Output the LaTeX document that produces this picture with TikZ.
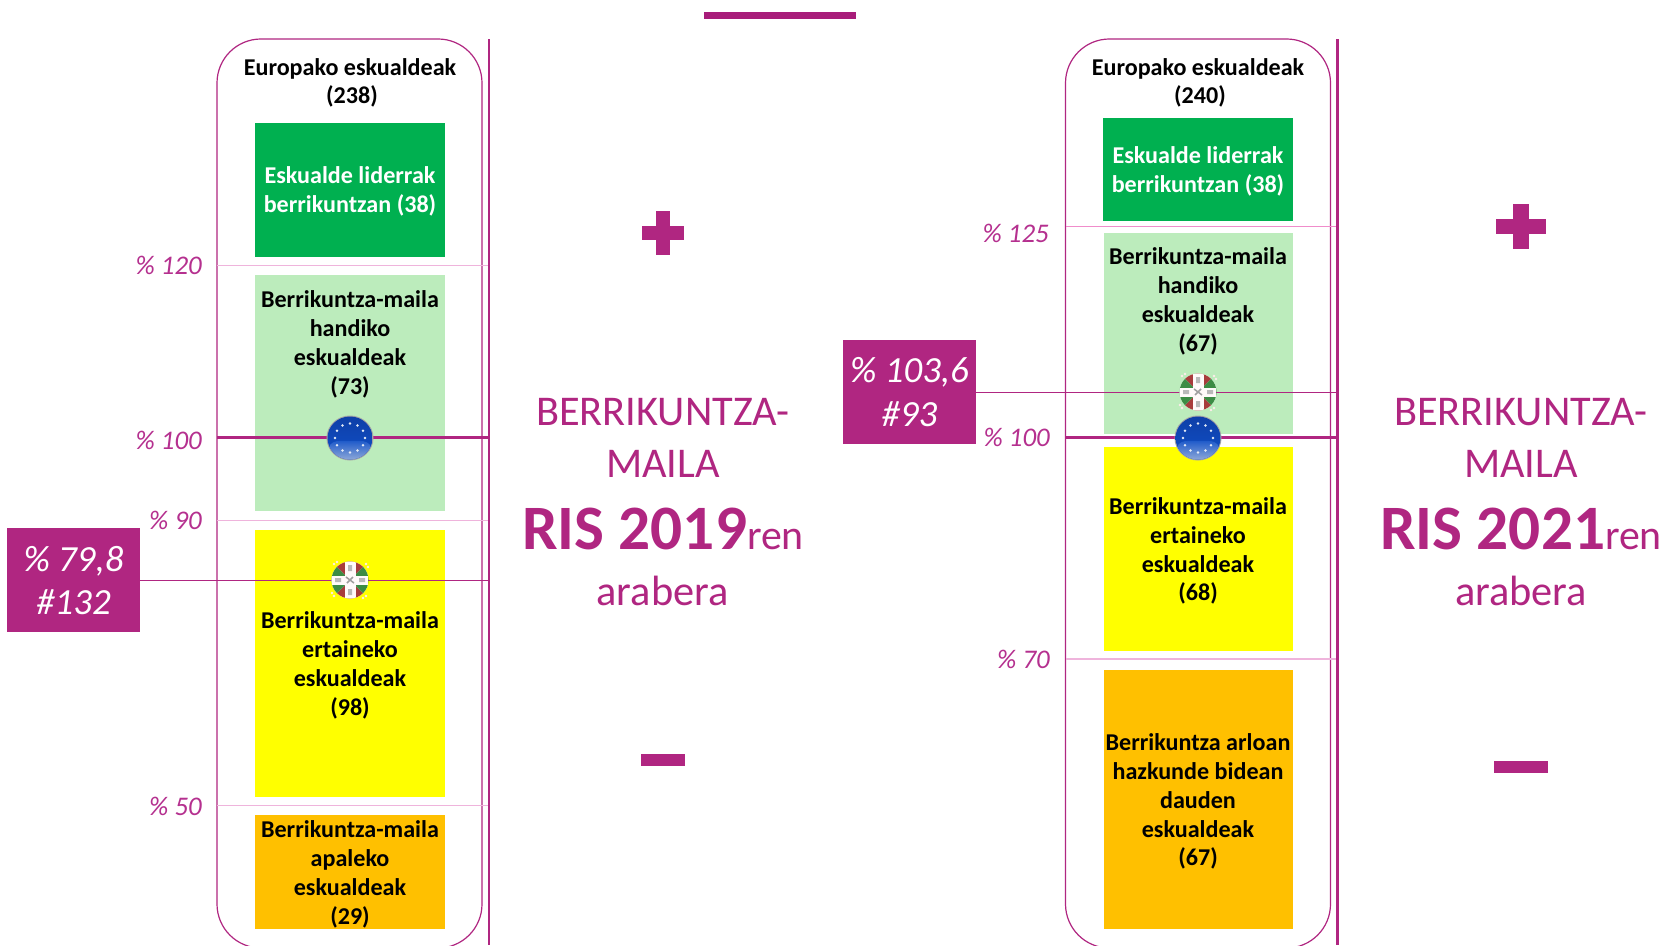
\documentclass[tikz,border=0pt]{standalone}
\usepackage{fontspec}
\setmainfont{Carlito}
\usetikzlibrary{shadings}
\definecolor{mag}{HTML}{B02681}
\definecolor{topbar}{HTML}{A81C7A}
\definecolor{pinka}{HTML}{EFB4DC}
\definecolor{pinkb}{HTML}{F08CCB}
\definecolor{lab}{HTML}{B5308F}
\definecolor{cgreen}{HTML}{00B050}
\definecolor{clight}{HTML}{BCECBC}
\definecolor{cyellow}{HTML}{FFFF00}
\definecolor{corange}{HTML}{FFC000}
\definecolor{eutop}{HTML}{0E3FA8}
\definecolor{eumid}{HTML}{1050C8}
\definecolor{eulow}{HTML}{8FA9D8}
\definecolor{ikred}{HTML}{A83C3C}
\definecolor{ikgreen}{HTML}{3C8C44}
\tikzset{
  x=1bp,y=-1bp,
  regbox/.style={inner sep=0pt,outer sep=0pt},
  capsule/.style={draw=mag,line width=1.2bp,rounded corners=44bp,minimum width=265bp,minimum height=909bp,inner sep=0pt,outer sep=0pt},
  blacktxt/.style={font=\fontsize{24.2}{29}\selectfont\bfseries,align=center,text=black,inner sep=0pt},
  whitetxt/.style={font=\fontsize{24.2}{29}\selectfont\bfseries,align=center,text=white,inner sep=0pt},
  headtxt/.style={font=\fontsize{24.2}{28}\selectfont\bfseries,align=center,text=black,inner sep=0pt},
  pct/.style={font=\fontsize{27}{30}\selectfont\itshape,text=lab,anchor=east,inner sep=0pt},
  valtxt/.style={font=\fontsize{37}{44}\selectfont\itshape,text=white,align=center,inner sep=0pt},
  ristxt/.style={text=mag,inner sep=0pt},
  bigtxt/.style={text=mag,inner sep=0pt,font=\fontsize{42.5}{42.5}\selectfont},
  thin pink/.style={draw=pinka,line width=1.5bp},
  bright pink/.style={draw=pinkb,line width=1.2bp},
  markline/.style={draw=mag,line width=1bp},
  hundred/.style={draw=mag,line width=2.6bp},
  axisline/.style={draw=mag,line width=2.6bp},
}
\newcommand{\regbox}[6]{%
  \pgfmathsetmacro{\rbw}{#4-#2}\pgfmathsetmacro{\rbh}{#5-#3}%
  \pgfmathsetmacro{\rbx}{(#2+#4)/2}\pgfmathsetmacro{\rby}{(#3+#5)/2}%
  \node[regbox,fill=#6,minimum width=\rbw bp,minimum height=\rbh bp] (#1) at (\rbx,\rby) {};}
\newcommand{\eubal}[3]{%
  \begin{scope}[shift={(#2,#3)}]
    \node[regbox,minimum width=46bp,minimum height=44bp] (#1) at (0,0) {};
    \fill[color=black!35!white] (0,0) ellipse [x radius=23.5,y radius=22.5];
    \shade[top color=eutop,bottom color=eumid] (0,0) ellipse [x radius=22.5,y radius=21.5];
    \begin{scope}
      \clip (0,0) ellipse [x radius=22.5,y radius=21.5];
      \shade[top color=eumid,bottom color=eulow] (-23,22) .. controls (-23,0) and (-14,3) .. (0,3) .. controls (14,3) and (23,0) .. (23,22) -- cycle;
    \end{scope}
    \foreach \a in {0,30,...,330}{\fill[white!75!eulow] ({15*cos(\a)},{14.5*sin(\a)}) circle [radius=1.4];}
  \end{scope}}
\newcommand{\ikur}[3]{%
  \begin{scope}[shift={(#2,#3)}]
    \node[regbox,minimum width=38bp,minimum height=37bp] (#1) at (0,0) {};
    \begin{scope}
      \clip (0,0) ellipse [x radius=18.5,y radius=18.5];
      \fill[white] (-19,-19) rectangle (19,19);
      \fill[ikred] (-19,-19) -- (0,0) -- (19,-19) -- cycle;
      \fill[ikred] (-19,19) -- (0,0) -- (19,19) -- cycle;
      \fill[ikgreen] (-19,-19) -- (0,0) -- (-19,19) -- cycle;
      \fill[ikgreen] (19,-19) -- (0,0) -- (19,19) -- cycle;
      \fill[white!92!pink] (-5.5,-19) rectangle (5.5,19);
      \fill[white!92!pink] (-19,-4.5) rectangle (19,4.5);
      \fill[gray!55] (-2,-15) rectangle (2,-9) (-2,9) rectangle (2,15) (-15,-2) rectangle (-9,2) (9,-2) rectangle (15,2);
      \draw[gray!75,line width=1.5bp] (-4,-3) -- (4,3) (-3,3) -- (3,-3);
    \end{scope}
    \foreach \p/\q in {-16/-16,16/-16,-16/16,16/16,-13/-18,13/18,-18/13,18/-13}{\fill[white!70!pink] (\p,\q) circle [radius=1.4];}
  \end{scope}}
\begin{document}
\begin{tikzpicture}
\useasboundingbox (0,0) rectangle (1670,945);
\fill[white] (0,0) rectangle (1670,945);
% top bar
\regbox{topb}{704}{12}{856}{19}{topbar}
% LEFT PANEL
\node[capsule] (capA) at (349.5,493.5) {};
\regbox{a1}{254.5}{123}{445}{257}{cgreen}
\regbox{a2}{255}{275}{445}{511}{clight}
\regbox{a3}{255}{530}{445}{797}{cyellow}
\regbox{a4}{255}{815}{445}{929}{corange}
\node[headtxt] (ah) at (350,83) {Europako eskualdeak\\\hspace*{4bp}(238)};
\node[whitetxt] (a1t) at (350,191.5) {Eskualde liderrak\\berrikuntzan (38)};
\node[blacktxt] (a2t) at (350,344.5) {Berrikuntza-maila\\handiko\\eskualdeak\\(73)};
\node[blacktxt] (a3t) at (350,665.5) {Berrikuntza-maila\\ertaineko\\eskualdeak\\(98)};
\node[blacktxt] (a4t) at (350,874.5) {Berrikuntza-maila\\apaleko\\eskualdeak\\(29)};
\coordinate (at) at (489,39); \coordinate (ab) at (489,945);
\foreach \n/\y in {120/265.7,90/520.7,50/805.5}{
  \coordinate (al\n) at (217,\y); \coordinate (ar\n) at (489,\y);
  \draw[thin pink] (al\n) -- (ar\n);}
\coordinate (al100) at (217,437.5); \coordinate (ar100) at (489,437.5);
\draw[hundred] (al100) -- (ar100);
\draw[axisline] (at) -- (ab);
\node[pct] (ap120) at (202,265.5) {\% 120};
\node[pct] (ap100) at (202,440.5) {\% 100};
\node[pct] (ap90) at (202,520.5) {\% 90};
\node[pct] (ap50) at (202,806.5) {\% 50};
\regbox{av}{7}{528}{140}{632}{mag}
\node[valtxt] (avt) at (73.5,580.5) {\% 79,8\\\#132};
\coordinate (avr) at (489,580);
\draw[markline] (av) -- (avr);
\eubal{aeu}{350}{438}
\ikur{aik}{350}{580}
\node[bigtxt] (at1) at (663,412) {BERRIKUNTZA-};
\node[bigtxt] (at2) at (663,464) {MAILA};
\node[ristxt] (at3) at (663,529) {\fontsize{63.5}{63.5}\selectfont\bfseries RIS 2019\fontsize{42}{42}\selectfont\mdseries ren};
\node[bigtxt] (at4) at (662.5,591) {arabera};
\regbox{apv}{656}{211}{670}{255}{mag}
\regbox{aph}{642}{226}{684}{240}{mag}
\regbox{am}{640.5}{754}{685}{766}{mag}
% RIGHT PANEL
\node[capsule] (capB) at (1198,493.5) {};
\regbox{b1}{1103}{118}{1293}{221}{cgreen}
\regbox{b2}{1104}{233}{1293}{434}{clight}
\regbox{b3}{1104}{447}{1293}{651}{cyellow}
\regbox{b4}{1104}{670}{1293}{929}{corange}
\node[headtxt] (bh) at (1198,83) {Europako eskualdeak\\\hspace*{4bp}(240)};
\node[whitetxt] (b1t) at (1198,171.5) {Eskualde liderrak\\berrikuntzan (38)};
\node[blacktxt] (b2t) at (1198,301.5) {Berrikuntza-maila\\handiko\\eskualdeak\\(67)};
\node[blacktxt] (b3t) at (1198,551) {Berrikuntza-maila\\ertaineko\\eskualdeak\\(68)};
\node[blacktxt] (b4t) at (1198,801.5) {Berrikuntza arloan\\hazkunde bidean\\dauden\\eskualdeak\\(67)};
\coordinate (bt) at (1337.7,39); \coordinate (bb) at (1337.7,945);
\coordinate (bl125) at (1066,226.3); \coordinate (br125) at (1337.7,226.3);
\draw[bright pink] (bl125) -- (br125);
\coordinate (bl70) at (1066,659); \coordinate (br70) at (1337.7,659);
\draw[thin pink] (bl70) -- (br70);
\coordinate (bl100) at (1066,437.5); \coordinate (br100) at (1337.7,437.5);
\draw[hundred] (bl100) -- (br100);
\draw[axisline] (bt) -- (bb);
\node[pct] (bp125) at (1049,233) {\% 125};
\node[pct] (bp100) at (1050,437.5) {\% 100};
\node[pct] (bp70) at (1050,659.5) {\% 70};
\regbox{bv}{843}{340}{976}{444}{mag}
\node[valtxt] (bvt) at (909.5,392) {\% 103,6\\\#93};
\coordinate (bvr) at (1337.7,392);
\draw[markline] (bv) -- (bvr);
\ikur{bik}{1198}{392}
\eubal{beu}{1198}{438}
\node[bigtxt] (bt1) at (1521,412) {BERRIKUNTZA-};
\node[bigtxt] (bt2) at (1521,464) {MAILA};
\node[ristxt] (bt3) at (1521,529) {\fontsize{63.5}{63.5}\selectfont\bfseries RIS 2021\fontsize{42}{42}\selectfont\mdseries ren};
\node[bigtxt] (bt4) at (1521,591) {arabera};
\regbox{bpv}{1513}{204}{1529}{249}{mag}
\regbox{bph}{1496}{219}{1546}{234}{mag}
\regbox{bm}{1494}{761}{1548}{773}{mag}
\end{tikzpicture}
\end{document}
